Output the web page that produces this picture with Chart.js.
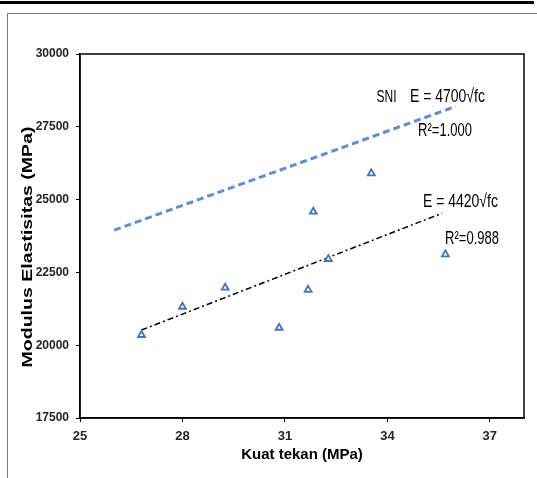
<!DOCTYPE html>
<html>
<head>
<meta charset="utf-8">
<title>Modulus Elastisitas vs Kuat tekan</title>
<script src="https://cdn.jsdelivr.net/npm/chart.js@4/dist/chart.umd.min.js"></script>
<style>
	html, body { margin: 0; padding: 0; background: #fff; }
	canvas { display: block; }
</style>
</head>
<body>
<canvas id="modulus-chart" width="537" height="478"></canvas>
<script>
/* global Chart */

'use strict';

/*================ Data ================*/

// Kuat tekan (MPa) and modulus elastisitas (MPa) of each specimen.
var kuatTekan = [26.8, 28.0, 29.25, 30.83, 31.68, 31.83, 32.27, 33.53, 35.7];
var modulus = [20350, 21320, 21975, 20600, 21900, 24585, 22960, 25900, 23120];

// SNI curve E = 4700 sqrt(fc), end points.
var sniX = [26, 36];
var sniY = [23950, 28200];

// Fitted curve E = 4420 sqrt(fc), end points.
var fitX = [26.8, 35.6];
var fitY = [20520, 24530];

var xTicks = [25, 28, 31, 34, 37];
var yTicks = [17500, 20000, 22500, 25000, 27500, 30000];

// Notes written on the plot, anchored in data units (left edge, middle).
var noteTexts = ['SNI', 'E = 4700\u221Afc', 'R\u00B2=1.000', 'E = 4420\u221Afc', 'R\u00B2=0.988'];
var noteX = [33.68, 34.66, 34.90, 35.04, 35.69];
var noteY = [28520, 28520, 27360, 24920, 23650];

function toPoints(xs, ys) {
	return xs.map(function(x, i) {
		return { x: x, y: ys[i] };
	});
}

/*================ Plugins ================*/

var paperPlugin = {
	id: 'paperFrame',
	beforeDraw: function(chart) {
		var ctx = chart.ctx;
		ctx.save();
		ctx.fillStyle = '#fff';
		ctx.fillRect(0, 0, chart.width, chart.height);
		// thick rule on top of the page
		ctx.fillStyle = '#000';
		ctx.fillRect(0, 1, 534, 3);
		// thin frame round the figure
		ctx.strokeStyle = '#7a7a7a';
		ctx.lineWidth = 1;
		ctx.beginPath();
		ctx.moveTo(7.5, chart.height);
		ctx.lineTo(7.5, 13.5);
		ctx.lineTo(chart.width, 13.5);
		ctx.stroke();
		ctx.restore();
	},
	afterDraw: function(chart) {
		var ctx = chart.ctx;
		var area = chart.chartArea;
		var xScale = chart.scales.x;
		var yScale = chart.scales.y;

		ctx.save();
		// box round the plot area
		ctx.strokeStyle = '#000';
		ctx.lineWidth = 1.5;
		ctx.strokeRect(area.left, area.top, area.right - area.left, area.bottom - area.top);

		// notes
		ctx.fillStyle = '#000';
		ctx.textAlign = 'left';
		ctx.textBaseline = 'middle';
		noteTexts.forEach(function(text, i) {
			var size = i === 0 ? 12 : (text.charAt(0) === 'E' ? 14 : 13);
			ctx.save();
			ctx.translate(xScale.getPixelForValue(noteX[i]), yScale.getPixelForValue(noteY[i]));
			ctx.scale(1, 1.35);
			ctx.font = size + 'px "Liberation Sans", Arial, sans-serif';
			ctx.fillText(text, 0, 0);
			ctx.restore();
		});

		// y axis title, stretched along its length like the source figure
		var title = 'Modulus Elastisitas (MPa)';
		ctx.font = 'bold 14px "Liberation Sans", Arial, sans-serif';
		var w = ctx.measureText(title).width;
		ctx.translate(28, 247);
		ctx.rotate(-Math.PI / 2);
		ctx.scale(241 / w, 1);
		ctx.textAlign = 'center';
		ctx.fillText(title, 0, 0);
		ctx.restore();
	}
};

/*================ Chart ================*/

var tickFont = function(size) {
	return { family: '"Liberation Sans", Arial, sans-serif', size: size, weight: 'bold' };
};

var chart = new Chart(document.getElementById('modulus-chart'), {
	type: 'scatter',
	data: {
		datasets: [ {
			label: 'Data',
			data: toPoints(kuatTekan, modulus),
			pointStyle: 'triangle',
			pointRadius: 4,
			pointHoverRadius: 4,
			borderWidth: 1.8,
			borderColor: '#4472C4',
			backgroundColor: '#fff'
		}, {
			label: 'SNI',
			data: toPoints(sniX, sniY),
			showLine: true,
			pointRadius: 0,
			borderColor: '#5B8FD9',
			borderWidth: 3,
			borderDash: [7, 4]
		}, {
			label: 'E = 4420',
			data: toPoints(fitX, fitY),
			showLine: true,
			pointRadius: 0,
			borderColor: '#000',
			borderWidth: 1.5,
			borderDash: [6, 3, 2, 3]
		} ]
	},
	options: {
		responsive: false,
		animation: false,
		events: [],
		layout: {
			padding: { top: 54, right: 13, left: 0, bottom: 0 }
		},
		scales: {
			x: {
				type: 'linear',
				min: 25,
				max: 38,
				afterBuildTicks: function(scale) {
					scale.ticks = xTicks.map(function(v) { return { value: v }; });
				},
				afterFit: function(scale) {
					scale.height = 60;
				},
				border: { display: true, color: '#000', width: 1.5 },
				grid: {
					drawOnChartArea: false,
					drawTicks: true,
					tickLength: 4,
					color: '#000'
				},
				ticks: {
					font: tickFont(13),
					color: '#262626',
					padding: 7,
					maxRotation: 0,
					callback: function(v) { return String(v); }
				},
				title: {
					display: true,
					text: 'Kuat tekan (MPa)',
					color: '#000',
					font: tickFont(15),
					padding: { top: 14, bottom: 14 }
				}
			},
			y: {
				type: 'linear',
				min: 17500,
				max: 30000,
				afterBuildTicks: function(scale) {
					scale.ticks = yTicks.map(function(v) { return { value: v }; });
				},
				afterFit: function(scale) {
					scale.width = 80;
				},
				border: { display: true, color: '#000', width: 1.5 },
				grid: {
					drawOnChartArea: false,
					drawTicks: true,
					tickLength: 4,
					color: '#000'
				},
				ticks: {
					font: tickFont(12),
					color: '#262626',
					padding: 7,
					callback: function(v) { return String(v); }
				}
			}
		},
		plugins: {
			legend: { display: false },
			tooltip: { enabled: false }
		}
	},
	plugins: [ paperPlugin ]
});
</script>
</body>
</html>
